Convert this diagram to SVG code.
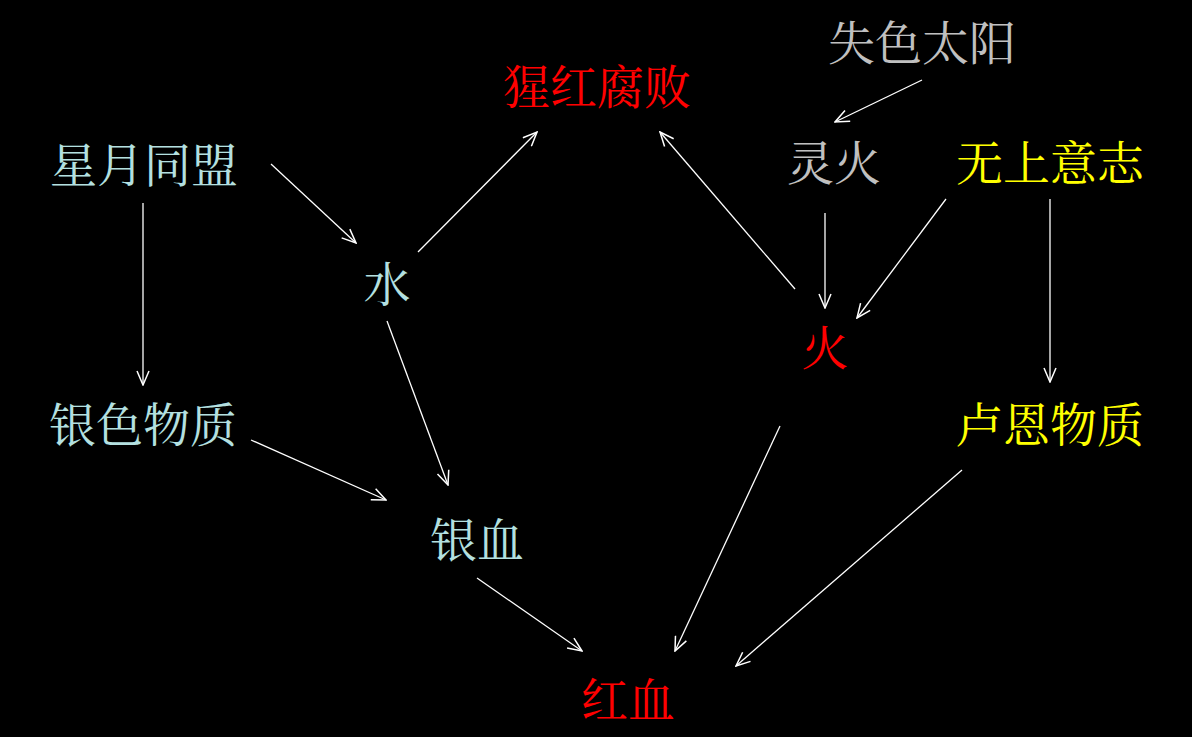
<svg xmlns="http://www.w3.org/2000/svg" width="1192" height="737" viewBox="0 0 1192 737">
<defs>
<style>
text{font-family:"Noto Serif CJK SC","Noto Sans CJK SC",serif;font-size:47px;text-anchor:middle}
.c{fill:#b4e0e0}.g{fill:#c0c0c0}.r{fill:#ff0000}.y{fill:#ffff00}
.e{stroke:#ffffff;stroke-width:1.3;fill:none;marker-end:url(#ah)}
</style>
<marker id="ah" markerWidth="16" markerHeight="14" refX="15" refY="7" orient="auto" markerUnits="userSpaceOnUse">
<path d="M1,1 L15,7 L1,13" fill="none" stroke="#ffffff" stroke-width="1.5"/>
</marker>
</defs>
<rect width="1192" height="737" fill="#000000"/>
<g id="connectors">
<line class="e" x1="922" y1="80" x2="835" y2="122"/>
<line class="e" x1="271" y1="164" x2="356" y2="243"/>
<line class="e" x1="143" y1="203" x2="143" y2="385"/>
<line class="e" x1="418" y1="252" x2="537" y2="132"/>
<line class="e" x1="387" y1="321" x2="448" y2="485"/>
<line class="e" x1="795" y1="289" x2="660" y2="132"/>
<line class="e" x1="825" y1="213" x2="825" y2="308"/>
<line class="e" x1="946" y1="199" x2="857" y2="318"/>
<line class="e" x1="1050" y1="199" x2="1050" y2="382"/>
<line class="e" x1="251" y1="440" x2="386" y2="500"/>
<line class="e" x1="477" y1="578" x2="582" y2="651"/>
<line class="e" x1="780" y1="426" x2="675" y2="651"/>
<line class="e" x1="962" y1="470" x2="736" y2="666"/>
</g>
<g id="n_shisetaiyang"><text class="g" x="922" y="60">失色太阳</text></g>
<g id="n_xinghongfubai"><text class="r" x="597" y="104">猩红腐败</text></g>
<g id="n_xingyuetongmeng"><text class="c" x="144" y="182">星月同盟</text></g>
<g id="n_linghuo"><text class="g" x="834" y="180">灵火</text></g>
<g id="n_wushangyizhi"><text class="y" x="1050" y="180">无上意志</text></g>
<g id="n_shui"><text class="c" x="387" y="301">水</text></g>
<g id="n_huo"><text class="r" x="825" y="365">火</text></g>
<g id="n_yinsewuzhi"><text class="c" x="143" y="442">银色物质</text></g>
<g id="n_luenwuzhi"><text class="y" x="1050" y="442">卢恩物质</text></g>
<g id="n_yinxue"><text class="c" x="477" y="557">银血</text></g>
<g id="n_hongxue"><text class="r" x="628" y="717">红血</text></g>
</svg>
